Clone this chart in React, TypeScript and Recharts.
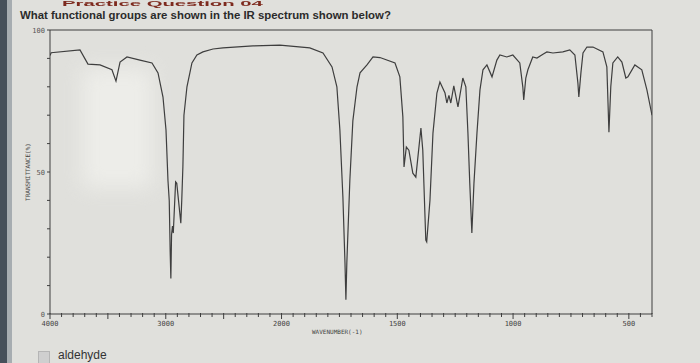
import { LineChart, Line, XAxis, YAxis, ReferenceLine } from 'recharts';

// wavenumbers (cm-1) and % transmittance
const WAVENUMBERS = [
    4000, 3990, 3741, 3672, 3568, 3465, 3430, 3395, 3335, 3223, 3119, 3067, 3024, 2998, 2981,
    2970, 2962, 2956, 2950, 2942, 2935, 2915, 2905, 2890, 2870, 2862, 2852, 2843, 2817, 2774,
    2731, 2679, 2592, 2506, 2247, 2014, 1878, 1821, 1782, 1761, 1748, 1735, 1726, 1722, 1718,
    1705, 1692, 1674, 1661, 1631, 1605, 1575, 1510, 1489, 1476, 1471, 1461, 1450, 1433, 1420,
    1398, 1390, 1377, 1373, 1359, 1346, 1329, 1316, 1294, 1286, 1277, 1269, 1256, 1238, 1217,
    1204, 1195, 1187, 1178, 1169, 1156, 1143, 1130, 1113, 1091, 1070, 1057, 1027, 1001, 971,
    958, 954, 945, 936, 915, 897, 871, 854, 828, 785, 755, 733, 720, 716, 707,
    698, 681, 655, 612, 595, 590, 586, 578, 569, 548, 530, 513, 504, 474, 444,
    422, 400,
];
const TRANSMITTANCE = [
    91, 92, 93, 88, 87.7, 86, 82, 88.7, 90.5, 89.4, 88.4, 84.9, 76.4, 64.8, 47,
    40, 22, 12.5, 28, 31, 28.5, 46.5, 46, 40, 32, 40, 52, 70, 80, 88.4,
    91.2, 92.3, 93.3, 93.7, 94.4, 94.7, 93.7, 91.9, 87, 80, 64.8, 41.2, 18, 5, 18,
    47, 68, 80, 84.9, 87.7, 90.5, 90.3, 88.4, 83.5, 69.4, 51.8, 58.8, 57.7, 49.6, 48.2,
    65.5, 57.7, 26, 25.4, 40, 63.7, 77.8, 81.7, 77.8, 74.3, 77, 74.3, 80.3, 72.9, 83.1,
    80, 63.7, 46, 28.5, 46, 63.7, 78.9, 86, 87.7, 83.5, 89.4, 91.2, 90.5, 91.2, 88.4,
    80, 75.4, 83.1, 86, 90.5, 90.1, 91.5, 92.3, 91.9, 92.3, 93, 91.2, 81.3, 76.4, 84.9,
    91.9, 94, 94, 92.3, 87, 74.3, 64, 80, 88.4, 90.5, 88.7, 83.1, 83.5, 87.7, 86,
    78.9, 70,
];

const X_LABELS = [4000, 3000, 2000, 1500, 1000, 500];
const X_MAJOR = [4000, 3500, 3000, 2500, 2000, 1500, 1000, 500];
const Y_LABELS = [0, 50, 100];

// the chart paper halves its scale below 2000 cm-1
const toPos = (wn: number) => (wn >= 2000 ? 4000 - wn : 2000 + 2 * (2000 - wn));
const toWn = (p: number) => (p <= 2000 ? 4000 - p : 2000 - (p - 2000) / 2);

const data = WAVENUMBERS.map((wn, i) => ({ pos: toPos(wn), t: TRANSMITTANCE[i] }));
const xTicks = Array.from({ length: 53 }, (_, i) => i * 100);
const yTicks = Array.from({ length: 11 }, (_, i) => i * 10);

const INK = '#3e3e3e';
const MONO = '"DejaVu Sans Mono", monospace';

const XTick = ({ x, y, payload }: any) => {
    const wn = Math.round(toWn(payload.value));
    const major = X_MAJOR.includes(wn);
    return (
        <g>
            <line x1={x} x2={x} y1={y - 1} y2={y + (major ? 5 : 3)} stroke={INK} strokeWidth={1} />
            {X_LABELS.includes(wn) && (
                <text x={x} y={y + 12} textAnchor="middle" fontSize={7} fontFamily={MONO} fill="#444">{wn}</text>
            )}
        </g>
    );
};

const YTick = ({ x, y, payload }: any) => (
    <g>
        <line x1={x - 3} x2={x} y1={y} y2={y} stroke={INK} strokeWidth={1} />
        {Y_LABELS.includes(payload.value) && (
            <text x={x - 5} y={y + 2.5} textAnchor="end" fontSize={7} fontFamily={MONO} fill="#555">{payload.value}</text>
        )}
    </g>
);

export default function App() {
    return (
        <div style={{ position: 'absolute', left: 0, top: 0, width: 700, height: 363, overflow: 'hidden', background: '#e0e0dc', fontFamily: '"Liberation Sans", Arial, sans-serif' }}>
            <div style={{ position: 'absolute', left: 0, top: 0, width: 7, height: 363, background: '#46505a' }} />
            <div style={{ position: 'absolute', left: 7, top: 0, width: 5, height: 363, background: '#a7adb1' }} />
            <div style={{ position: 'absolute', left: 82, top: 68, width: 70, height: 120, background: '#f6f6f2', filter: 'blur(10px)', opacity: 0.6 }} />
            <div style={{ position: 'absolute', left: 62, top: 0, fontSize: 7, lineHeight: '7px', fontWeight: 700, color: '#7d2a1e', whiteSpace: 'nowrap', transform: 'scaleX(2.9)', transformOrigin: 'left top' }}>Practice Question 04</div>
            <div style={{ position: 'absolute', left: 20, top: 9, fontSize: 11.4, fontWeight: 700, color: '#2b2b2b', whiteSpace: 'nowrap' }}>
                What functional groups are shown in the IR spectrum shown below?
            </div>
            <LineChart width={700} height={363} data={data} margin={{ top: 30, right: 48, bottom: 19, left: 20 }} style={{ position: 'absolute', left: 0, top: 0 }}>
                <XAxis dataKey="pos" type="number" domain={[0, 5200]} ticks={xTicks} interval={0} tick={<XTick />}
                    tickSize={0} tickMargin={0} tickLine={false} axisLine={{ stroke: INK }} height={30} allowDataOverflow />
                <YAxis type="number" domain={[0, 100]} ticks={yTicks} interval={0} tick={<YTick />}
                    tickSize={0} tickMargin={0} tickLine={false} axisLine={{ stroke: INK }} width={30} />
                <ReferenceLine y={100} stroke={INK} strokeWidth={1} />
                <ReferenceLine x={5200} stroke={INK} strokeWidth={1} />
                <Line type="linear" dataKey="t" stroke={INK} strokeWidth={1.2} dot={false} isAnimationActive={false} />
            </LineChart>
            <div style={{ position: 'absolute', left: 312, top: 328, fontSize: 6, fontFamily: MONO, color: '#444', whiteSpace: 'nowrap' }}>WAVENUMBER(-1)</div>
            <div style={{ position: 'absolute', left: 27, top: 172, fontSize: 6, fontFamily: MONO, color: '#444', whiteSpace: 'nowrap', transform: 'translate(-50%, -50%) rotate(-90deg)' }}>TRANSMITTANCE(%)</div>
            <div style={{ position: 'absolute', left: 38, top: 351, width: 10, height: 11, background: '#cfcfcf', border: '1px solid #b5b5b5' }} />
            <div style={{ position: 'absolute', left: 58, top: 348, fontSize: 12, lineHeight: '14px', color: '#333' }}>aldehyde</div>
        </div>
    );
}
